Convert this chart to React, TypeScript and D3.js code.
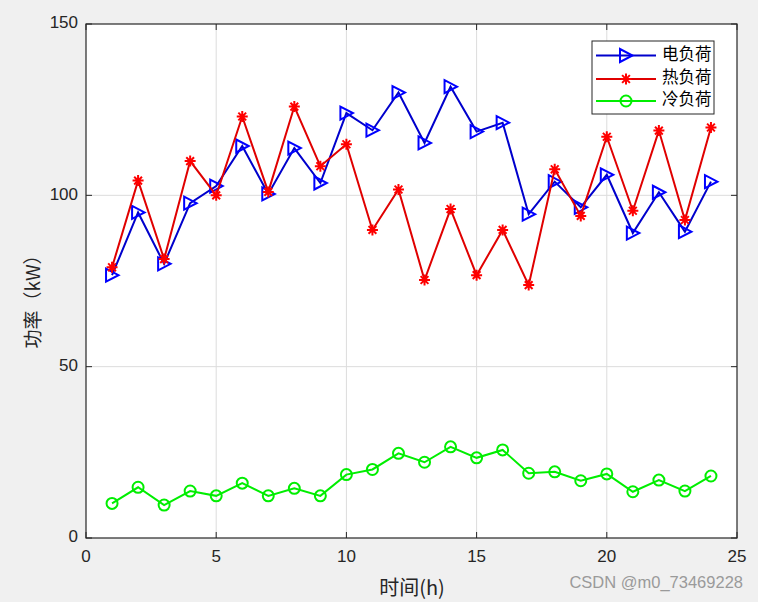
import React from 'react';
import * as d3 from 'd3';

const hours = d3.range(1, 25);
const elecLoad = [76.7, 95, 80, 97.7, 102.7, 114.4, 100.4, 113.8, 103.6, 124, 119, 130, 115.3, 131.7, 118.6, 121.2, 94.5, 104, 96.5, 106, 89, 100.9, 89.4, 104];
const heatLoad = [79, 104.3, 81.4, 110, 100, 123, 101, 125.9, 108.5, 114.9, 89.9, 101.7, 75.3, 96, 76.7, 89.9, 73.8, 107.6, 94, 117.1, 95.5, 118.9, 92.8, 119.8];
const coldLoad = [10.1, 14.8, 9.6, 13.7, 12.3, 16, 12.3, 14.5, 12.3, 18.5, 20, 24.7, 22.1, 26.6, 23.4, 25.7, 18.9, 19.3, 16.7, 18.7, 13.5, 16.9, 13.7, 18.1];
const xTicks = [0, 5, 10, 15, 20, 25];
const yTicks = [0, 50, 100, 150];
const seriesNames = ['电负荷', '热负荷', '冷负荷'];

const W = 758;
const H = 602;
const left = 86, right = 737, top = 24, bottom = 538;
const axisColor = '#262626';
const tickFont = '"Liberation Sans", Arial, sans-serif';
const cjkFont = '"Noto Sans CJK SC", sans-serif';

type Kind = 'tri' | 'star' | 'circle';

const Marker: React.FC<{ x: number; y: number; kind: Kind; color: string }> = ({ x, y, kind, color }) => {
  if (kind === 'tri') {
    return <path d={`M${x - 6},${y - 6.5}L${x - 6},${y + 6.5}L${x + 6.5},${y}Z`} fill="none" stroke={color} strokeWidth={2} />;
  }
  if (kind === 'circle') {
    return <circle cx={x} cy={y} r={5.5} fill="none" stroke={color} strokeWidth={2} />;
  }
  const r = 5.5;
  const d = r * Math.SQRT1_2;
  return (
    <path
      d={`M${x - r},${y}L${x + r},${y}M${x},${y - r}L${x},${y + r}M${x - d},${y - d}L${x + d},${y + d}M${x - d},${y + d}L${x + d},${y - d}`}
      stroke={color}
      strokeWidth={2}
    />
  );
};

const App: React.FC = () => {
  const x = d3.scaleLinear().domain([0, 25]).range([left, right]);
  const y = d3.scaleLinear().domain([0, 150]).range([bottom, top]);

  const series = [
    { name: seriesNames[0], data: elecLoad, line: '#0000cc', mark: '#0000ff', kind: 'tri' as Kind },
    { name: seriesNames[1], data: heatLoad, line: '#e00000', mark: '#ff0000', kind: 'star' as Kind },
    { name: seriesNames[2], data: coldLoad, line: '#00ee00', mark: '#00ee00', kind: 'circle' as Kind },
  ];

  const line = d3.line<number>()
    .x((_d, i) => x(hours[i]))
    .y(d => y(d));

  const legX = 592, legY = 41, legW = 122, legH = 73;
  const legRows = [55.5, 79, 101];

  return (
    <svg width={W} height={H} style={{ position: 'absolute', left: 0, top: 0, background: '#f0f0f0' }}>
      <rect x={left} y={top} width={right - left} height={bottom - top} fill="#fff" />
      {/* grid */}
      {xTicks.slice(1, -1).map(t => (
        <line key={'gx' + t} x1={x(t)} x2={x(t)} y1={top} y2={bottom} stroke="#dcdcdc" strokeWidth={1} />
      ))}
      {yTicks.slice(1, -1).map(t => (
        <line key={'gy' + t} x1={left} x2={right} y1={y(t)} y2={y(t)} stroke="#dcdcdc" strokeWidth={1} />
      ))}

      {/* series */}
      {series.map(s => (
        <g key={s.name}>
          <path d={line(s.data) || ''} fill="none" stroke={s.line} strokeWidth={2} />
          {s.data.map((v, i) => (
            <Marker key={i} x={x(hours[i])} y={y(v)} kind={s.kind} color={s.mark} />
          ))}
        </g>
      ))}

      {/* box + ticks */}
      <rect x={left} y={top} width={right - left} height={bottom - top} fill="none" stroke={axisColor} strokeWidth={1.2} />
      {xTicks.map(t => (
        <g key={'tx' + t}>
          <line x1={x(t)} x2={x(t)} y1={bottom} y2={bottom - 6} stroke={axisColor} />
          <line x1={x(t)} x2={x(t)} y1={top} y2={top + 6} stroke={axisColor} />
          <text x={x(t)} y={558} textAnchor="middle" dominantBaseline="middle" fontFamily={tickFont} fontSize={17} fill={axisColor}>{t}</text>
        </g>
      ))}
      {yTicks.map(t => (
        <g key={'ty' + t}>
          <line x1={left} x2={left + 6} y1={y(t)} y2={y(t)} stroke={axisColor} />
          <line x1={right} x2={right - 6} y1={y(t)} y2={y(t)} stroke={axisColor} />
          <text x={left - 8} y={y(t)} textAnchor="end" dominantBaseline="middle" fontFamily={tickFont} fontSize={17} fill={axisColor}>{t}</text>
        </g>
      ))}

      {/* axis labels */}
      <text x={412} y={590} textAnchor="middle" dominantBaseline="middle" fontFamily={cjkFont} fontSize={20} fill={axisColor}>时间(h)</text>
      <text transform="translate(35,297) rotate(-90)" textAnchor="middle" dominantBaseline="middle" fontFamily={cjkFont} fontSize={19} fill={axisColor}>功率（kW）</text>

      {/* legend */}
      <rect x={legX} y={legY} width={legW} height={legH} fill="#fff" stroke={axisColor} strokeWidth={1} />
      {series.map((s, i) => (
        <g key={'leg' + s.name}>
          <line x1={596} x2={656} y1={legRows[i]} y2={legRows[i]} stroke={s.line} strokeWidth={2} />
          <Marker x={626} y={legRows[i]} kind={s.kind} color={s.mark} />
          <text x={662} y={legRows[i]} dominantBaseline="middle" fontFamily={cjkFont} fontSize={16.5} fill="#000">{s.name}</text>
        </g>
      ))}

      {/* watermark */}
      <text x={743} y={584} textAnchor="end" dominantBaseline="middle" fontFamily={tickFont} fontSize={16.5} fill="#9a9a9a">CSDN @m0_73469228</text>
    </svg>
  );
};

export default App;
